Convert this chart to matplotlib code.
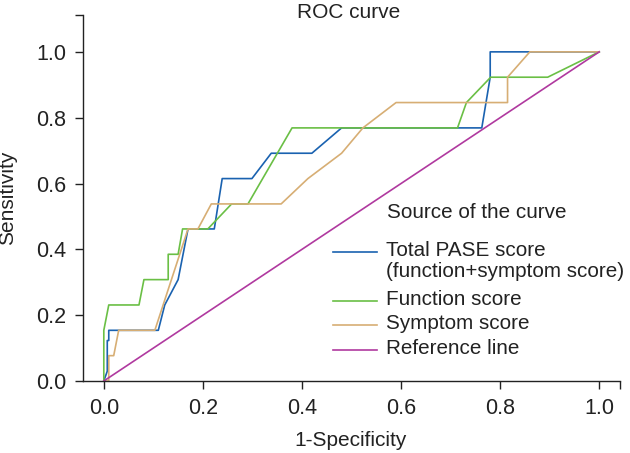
import matplotlib
matplotlib.use("Agg")
import matplotlib.pyplot as plt
from matplotlib.lines import Line2D

plt.rcParams['font.family'] = ['Liberation Sans', 'DejaVu Sans']

# ROC data (1-Specificity, Sensitivity)
total_fpr = [0, 0.007, 0.007, 0.010, 0.010, 0.110, 0.123, 0.150, 0.170, 0.223, 0.239, 0.299, 0.338, 0.420, 0.480, 0.763, 0.780, 0.780, 1.0]
total_tpr = [0, 0.03, 0.123, 0.123, 0.154, 0.154, 0.231, 0.308, 0.462, 0.462, 0.615, 0.615, 0.692, 0.692, 0.769, 0.769, 0.923, 1.0, 1.0]

func_fpr = [0, 0, 0.010, 0.071, 0.081, 0.130, 0.130, 0.150, 0.159, 0.210, 0.258, 0.291, 0.380, 0.714, 0.732, 0.781, 0.896, 1.0]
func_tpr = [0, 0.154, 0.231, 0.231, 0.308, 0.308, 0.385, 0.385, 0.462, 0.462, 0.538, 0.538, 0.769, 0.769, 0.846, 0.923, 0.923, 1.0]

symp_fpr = [0, 0.010, 0.010, 0.020, 0.030, 0.103, 0.170, 0.190, 0.217, 0.358, 0.412, 0.480, 0.523, 0.590, 0.815, 0.815, 0.860, 1.0]
symp_tpr = [0, 0, 0.077, 0.077, 0.154, 0.154, 0.462, 0.462, 0.538, 0.538, 0.615, 0.692, 0.769, 0.846, 0.846, 0.923, 1.0, 1.0]

ref_x = [0, 1]
ref_y = [0, 1]

labels = ["Total PASE score\n(function+symptom score)", "Function score", "Symptom score", "Reference line"]
colors = ["#1a62b0", "#6abf45", "#d7ae74", "#b0399f"]
xticks = [0.0, 0.2, 0.4, 0.6, 0.8, 1.0]
yticks = [0.0, 0.2, 0.4, 0.6, 0.8, 1.0]

W, H = 630, 453
TXT = '#222222'
fig = plt.figure(figsize=(W/100, H/100), dpi=100)
ax = fig.add_axes([83/W, 1-381/H, (620-83)/W, (381-15)/H])

series = [(total_fpr, total_tpr), (func_fpr, func_tpr), (symp_fpr, symp_tpr), (ref_x, ref_y)]
for (xs, ys), c, lab in zip(series, colors, labels):
    ax.plot(xs, ys, color=c, lw=1.2, label=lab, clip_on=False)

ax.set_xlim(-0.042, 1.042)
ax.set_ylim(0, 1.112)
ax.set_xticks(xticks)
ax.set_yticks(yticks)
ax.set_xticks([1.042], minor=True)
ax.set_yticks([1.112], minor=True)
ax.set_xticklabels([f"{t:.1f}" for t in xticks])
ax.set_yticklabels([f"{t:.1f}" for t in yticks])
ax.tick_params(which='both', direction='out', length=6, width=1, color=TXT,
               labelsize=15.5, pad=6, labelcolor=TXT)
for s in ['top', 'right']:
    ax.spines[s].set_visible(False)
for s in ['left', 'bottom']:
    ax.spines[s].set_linewidth(1)
    ax.spines[s].set_color(TXT)

fig.text(8/W, 1-198/H, "Sensitivity", rotation=90, ha='center', va='center', fontsize=15, color=TXT)
fig.text(351/W, 1-440/H, "1-Specificity", ha='center', va='center', fontsize=15, color=TXT)
fig.text(349/W, 1-12/H, "ROC curve", ha='center', va='center', fontsize=15, color=TXT)

# Legend (placed manually)
LFS = 14.9
fig.text(387/W, 1-213/H, "Source of the curve", ha='left', va='center', fontsize=LFS, color=TXT)
entry_y = [252, 301, 325, 350]
for c, lab, yy in zip(colors, labels, entry_y):
    fig.add_artist(Line2D([333/W, 377/W], [1-yy/H, 1-yy/H], color=c, lw=1.2,
                          transform=fig.transFigure))
    fig.text(386/W, 1-(yy-11)/H, lab, ha='left', va='top', fontsize=LFS,
             color=TXT, linespacing=1.14)

fig.savefig("out.png", dpi=100)
